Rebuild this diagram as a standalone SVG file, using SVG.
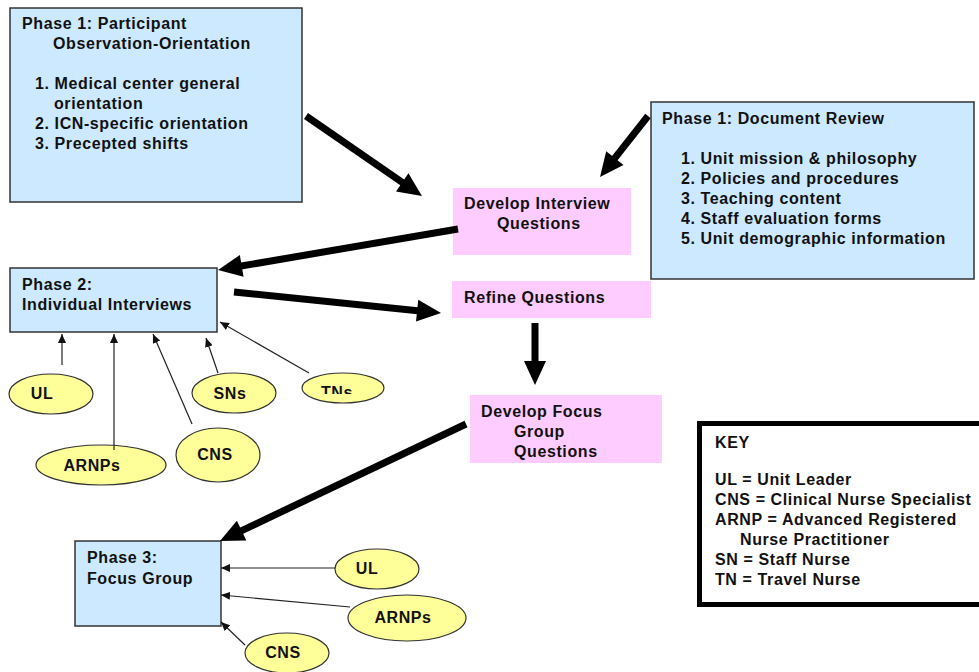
<svg xmlns="http://www.w3.org/2000/svg" width="979" height="672" viewBox="0 0 979 672">
<style>
text{font-family:"Liberation Sans",Arial,sans-serif;font-weight:bold;font-size:16px;letter-spacing:0.6px;fill:#111}
.blue{fill:#CCE9FF;stroke:#333;stroke-width:1.5}
.pink{fill:#FFCCFF}
.ell{fill:#FFFF99;stroke:#333;stroke-width:1.2}
.thick{stroke:#000;stroke-width:7;fill:none;marker-end:url(#big)}
.thin{stroke:#222;stroke-width:1.2;fill:none;marker-end:url(#small)}
</style>
<defs>
<marker id="big" markerUnits="userSpaceOnUse" markerWidth="26" markerHeight="24" refX="8" refY="11" orient="auto" overflow="visible"><path d="M0,0 L24,11 L0,22 z" fill="#000"/></marker>
<marker id="small" markerUnits="userSpaceOnUse" markerWidth="10" markerHeight="8" refX="9" refY="4" orient="auto"><path d="M0,0 L9,4 L0,8 z" fill="#111"/></marker>
<clipPath id="tnclip"><rect x="290" y="360" width="110" height="34"/></clipPath>
</defs>
<rect width="979" height="672" fill="#fff"/>
<g id="phase1-observation">
<rect class="blue" x="10" y="8" width="292" height="194"/>
<text x="22" y="29">Phase 1: Participant</text>
<text x="53" y="49">Observation-Orientation</text>
<text x="35" y="89">1. Medical center general</text>
<text x="54" y="109">orientation</text>
<text x="35" y="129">2. ICN-specific orientation</text>
<text x="35" y="149">3. Precepted shifts</text>
</g>
<g id="phase1-document">
<rect class="blue" x="651" y="102" width="323" height="177"/>
<text x="662" y="124">Phase 1: Document Review</text>
<text x="681" y="164">1. Unit mission &amp; philosophy</text>
<text x="681" y="184">2. Policies and procedures</text>
<text x="681" y="204">3. Teaching content</text>
<text x="681" y="224">4. Staff evaluation forms</text>
<text x="681" y="244">5. Unit demographic information</text>
</g>
<g id="develop-interview">
<rect class="pink" x="453" y="188" width="178" height="67"/>
<text x="464" y="209">Develop Interview</text>
<text x="497" y="229">Questions</text>
</g>
<g id="refine">
<rect class="pink" x="452" y="281" width="199" height="37"/>
<text x="464" y="303">Refine Questions</text>
</g>
<g id="develop-focus">
<rect class="pink" x="470" y="395" width="192" height="68"/>
<text x="481" y="417">Develop Focus</text>
<text x="514" y="437">Group</text>
<text x="514" y="457">Questions</text>
</g>
<g id="phase2">
<rect class="blue" x="10" y="268" width="207" height="64"/>
<text x="22" y="290">Phase 2:</text>
<text x="22" y="310">Individual Interviews</text>
</g>
<g id="phase3">
<rect class="blue" x="75" y="541" width="146" height="85"/>
<text x="87" y="563">Phase 3:</text>
<text x="87" y="584">Focus Group</text>
</g>
<g id="p2-ul"><ellipse class="ell" cx="51" cy="394" rx="42" ry="20"/><text x="42" y="399" text-anchor="middle">UL</text></g>
<g id="p2-arnps"><ellipse class="ell" cx="101" cy="465" rx="65" ry="20"/><text x="92" y="471" text-anchor="middle">ARNPs</text></g>
<g id="p2-cns"><ellipse class="ell" cx="218" cy="455" rx="42" ry="27"/><text x="215" y="460" text-anchor="middle">CNS</text></g>
<g id="p2-sns"><ellipse class="ell" cx="234" cy="393" rx="42" ry="20"/><text x="230" y="399" text-anchor="middle">SNs</text></g>
<g id="p2-tns"><ellipse class="ell" cx="343" cy="388" rx="41" ry="15"/><text x="337" y="398" text-anchor="middle" clip-path="url(#tnclip)">TNs</text></g>
<g id="p3-ul"><ellipse class="ell" cx="377" cy="569" rx="42" ry="20"/><text x="367" y="574" text-anchor="middle">UL</text></g>
<g id="p3-arnps"><ellipse class="ell" cx="407" cy="618" rx="59" ry="23"/><text x="403" y="623" text-anchor="middle">ARNPs</text></g>
<g id="p3-cns"><ellipse class="ell" cx="287" cy="653" rx="42" ry="20"/><text x="283" y="658" text-anchor="middle">CNS</text></g>
<g id="key">
<rect x="699.5" y="423.5" width="290" height="181" fill="#fff" stroke="#000" stroke-width="5"/>
<text x="715" y="448">KEY</text>
<text x="715" y="485">UL = Unit Leader</text>
<text x="715" y="505">CNS = Clinical Nurse Specialist</text>
<text x="715" y="525">ARNP = Advanced Registered</text>
<text x="740" y="545">Nurse Practitioner</text>
<text x="715" y="565">SN = Staff Nurse</text>
<text x="715" y="585">TN = Travel Nurse</text>
</g>
<g id="connectors">
<line class="thick" x1="306" y1="116" x2="408.8" y2="186.9"/>
<line class="thick" x1="648" y1="116" x2="609.9" y2="164.4"/>
<line class="thick" x1="458" y1="229" x2="233.8" y2="267.3"/>
<line class="thick" x1="234" y1="292" x2="425.1" y2="311.4"/>
<line class="thick" x1="535" y1="323" x2="535" y2="369"/>
<line class="thick" x1="466" y1="424" x2="234.4" y2="534.1"/>
<line class="thin" x1="62" y1="365" x2="62" y2="334"/>
<line class="thin" x1="114" y1="450" x2="114" y2="334"/>
<line class="thin" x1="192" y1="424" x2="153" y2="334"/>
<line class="thin" x1="218" y1="373" x2="206" y2="338"/>
<line class="thin" x1="309" y1="373" x2="220" y2="322"/>
<line class="thin" x1="335" y1="568" x2="221" y2="568"/>
<line class="thin" x1="350" y1="607" x2="221" y2="595"/>
<line class="thin" x1="245" y1="645" x2="221" y2="622"/>
</g>
</svg>
